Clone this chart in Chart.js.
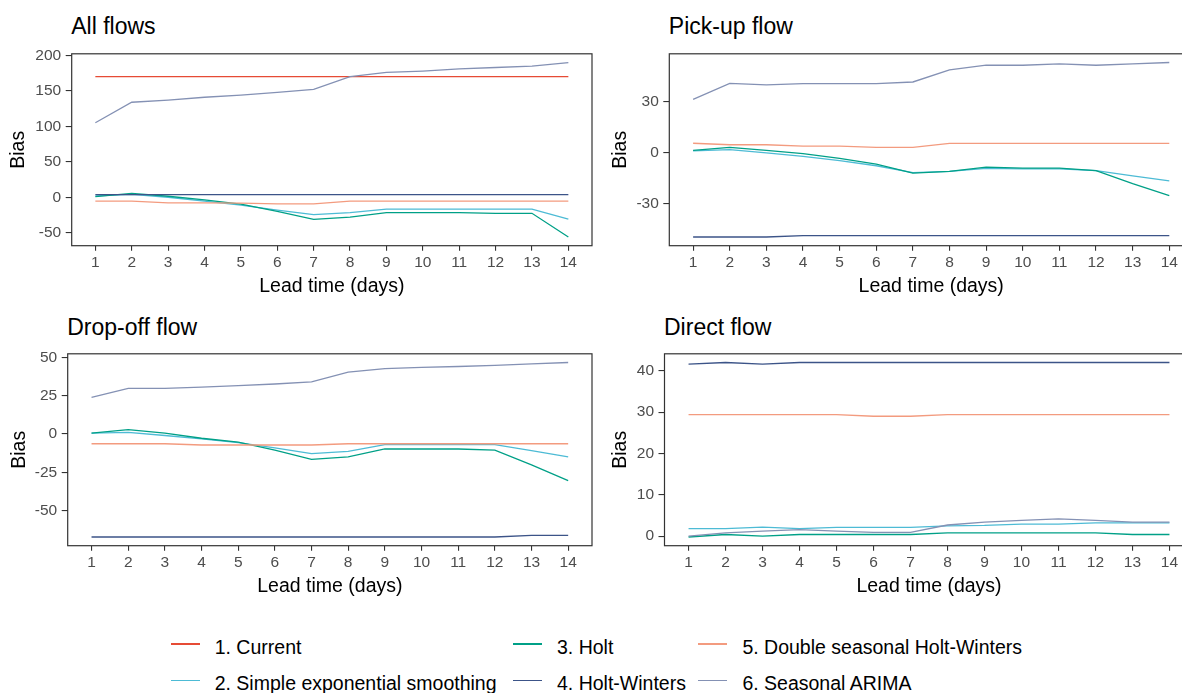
<!DOCTYPE html>
<html>
<head>
<meta charset="utf-8">
<title>Bias by lead time</title>
<script src="https://cdn.jsdelivr.net/npm/chart.js@4.4.1/dist/chart.umd.min.js"></script>
<style>
  html, body { margin: 0; padding: 0; background: #fff; overflow: hidden; }
  body { width: 1182px; height: 693px; position: relative; font-family: "Liberation Sans", Arial, sans-serif; }
  canvas { position: absolute; }
  .title { position: absolute; font-size: 23px; line-height: 22px; color: #000; white-space: nowrap; }
  .key { position: absolute; height: 22px; font-size: 19.5px; line-height: 22px; color: #000; white-space: nowrap; }
  .key i { position: absolute; left: 0; top: 7.5px; width: 29px; height: 1.6px; }
  .key span { position: absolute; left: 44px; top: 0; }
</style>
</head>
<body>
<script>
// lead time in days (x axis)
const leadDays = [1, 2, 3, 4, 5, 6, 7, 8, 9, 10, 11, 12, 13, 14];

const seriesNames = [
  '1. Current',
  '2. Simple exponential smoothing',
  '3. Holt',
  '4. Holt-Winters',
  '5. Double seasonal Holt-Winters',
  '6. Seasonal ARIMA'
];
const seriesColors = ['#E64B35', '#4DBBD5', '#00A087', '#3C5488', '#F39B7F', '#8491B4'];

// All flows
const allCurrent = [170, 170, 170, 170, 170, 170, 170, 170, 170, 170, 170, 170, 170, 170];
const allSes     = [2, 4, 0, -5.5, -11, -18, -24.5, -21.7, -16.6, -16.6, -16.6, -16.6, -16.6, -31];
const allHolt    = [1, 5.5, 1.4, -3.7, -9.7, -19.8, -31.3, -28, -21.7, -21.7, -21.7, -22.6, -22.6, -56];
const allHw      = [3.7, 3.7, 3.7, 3.7, 3.7, 3.7, 3.7, 3.7, 3.7, 3.7, 3.7, 3.7, 3.7, 3.7];
const allDshw    = [-5.5, -5.5, -8, -8, -8.3, -9.2, -9.2, -5.5, -5.5, -5.5, -5.5, -5.5, -5.5, -5.5];
const allArima   = [105, 134, 137, 141, 144, 148, 152, 170, 176, 178, 181, 183, 185, 190];
const allTicks   = [-50, 0, 50, 100, 150, 200];

// Pick-up flow
const pickSes    = [1, 1.7, -0.2, -2.3, -4.8, -7.8, -11.9, -11.1, -9.4, -9.6, -9.6, -10.7, -13.8, -16.8];
const pickHolt   = [1.3, 3.1, 1.3, -0.6, -3.4, -6.9, -12.2, -11.1, -8.6, -9.2, -9.2, -10.7, -18.4, -25.4];
const pickHw     = [-49.9, -49.9, -49.9, -49.1, -49.1, -49.1, -49.1, -49.1, -49.1, -49.1, -49.1, -49.1, -49.1, -49.1];
const pickDshw   = [5.5, 4.6, 4.6, 3.8, 3.8, 3.1, 3.1, 5.4, 5.4, 5.4, 5.4, 5.4, 5.4, 5.4];
const pickArima  = [31.4, 40.9, 40, 40.7, 40.7, 40.7, 41.7, 48.8, 51.6, 51.6, 52.4, 51.6, 52.4, 53.2];
const pickTicks  = [-30, 0, 30];

// Drop-off flow
const dropSes    = [0.6, 1, -1, -3.2, -5.7, -9.1, -12.8, -11.3, -7, -7, -7, -7, -10.9, -14.9];
const dropHolt   = [0.6, 2.8, 0.6, -2.8, -5.3, -10.6, -16.6, -14.9, -9.8, -9.8, -9.8, -10.6, -20.2, -30.4];
const dropHw     = [-67.2, -67.2, -67.2, -67.2, -67.2, -67.2, -67.2, -67.2, -67.2, -67.2, -67.2, -67.2, -66.2, -66.2];
const dropDshw   = [-6.4, -6.4, -6.4, -7.2, -7.2, -7.2, -7.2, -6.4, -6.4, -6.4, -6.4, -6.4, -6.4, -6.4];
const dropArima  = [23.8, 29.8, 29.8, 30.6, 31.5, 32.6, 34, 40.4, 42.6, 43.4, 44, 44.7, 45.7, 46.6];
const dropTicks  = [-50, -25, 0, 25, 50];

// Direct flow
const directSes   = [1.8, 1.8, 2.2, 1.8, 2.1, 2.1, 2.1, 2.5, 2.6, 2.9, 2.9, 3.2, 3.2, 3.2];
const directHolt  = [-0.2, 0.4, 0, 0.4, 0.4, 0.4, 0.4, 0.8, 0.8, 0.8, 0.8, 0.8, 0.4, 0.4];
const directHw    = [41.6, 42, 41.6, 42, 42, 42, 42, 42, 42, 42, 42, 42, 42, 42];
const directDshw  = [29.4, 29.4, 29.4, 29.4, 29.4, 29, 29, 29.4, 29.4, 29.4, 29.4, 29.4, 29.4, 29.4];
const directArima = [0, 0.8, 1.2, 1.6, 1.2, 0.9, 0.9, 2.7, 3.4, 3.8, 4.2, 3.8, 3.4, 3.4];
const directTicks = [0, 10, 20, 30, 40];

const panels = [
  { title: 'All flows', series: [allCurrent, allSes, allHolt, allHw, allDshw, allArima], yTicks: allTicks,
    canvas: { left: 0, top: 40, width: 594, height: 262 },
    frame: { l: 71.7, t: 50, r: 592, b: 245.7 }, biasX: 18.8, xTitleY: 286.7, titleTop: 15.2 },
  { title: 'Pick-up flow', series: [null, pickSes, pickHolt, pickHw, pickDshw, pickArima], yTicks: pickTicks,
    canvas: { left: 590, top: 40, width: 606, height: 262 },
    frame: { l: 669.3, t: 50, r: 1193.1, b: 245.7 }, biasX: 621, xTitleY: 286.7, titleTop: 15.2 },
  { title: 'Drop-off flow', series: [null, dropSes, dropHolt, dropHw, dropDshw, dropArima], yTicks: dropTicks,
    canvas: { left: 0, top: 340, width: 594, height: 262 },
    frame: { l: 67.7, t: 350, r: 592, b: 545.7 }, biasX: 19.7, xTitleY: 586.7, titleTop: 315.9 },
  { title: 'Direct flow', series: [null, directSes, directHolt, directHw, directDshw, directArima], yTicks: directTicks,
    canvas: { left: 590, top: 340, width: 606, height: 262 },
    frame: { l: 664.5, t: 350, r: 1193.5, b: 545.7 }, biasX: 621, xTitleY: 586.7, titleTop: 315.9 }
];

const FONT = '"Liberation Sans", Arial, sans-serif';
const TICK_SIZE = 15.5;
const TITLE_SIZE = 19.5;
const halfTitle = TITLE_SIZE * 1.2 / 2;

// panel border drawn round the plotting area
const panelFrame = {
  id: 'panelFrame',
  afterDraw(chart) {
    const { ctx, chartArea: a } = chart;
    ctx.save();
    ctx.strokeStyle = '#333333';
    ctx.lineWidth = 1.2;
    ctx.strokeRect(a.left, a.top, a.right - a.left, a.bottom - a.top);
    ctx.restore();
  }
};

// ggplot-style 5% expansion of a range
function expand(lo, hi) {
  const pad = (hi - lo) * 0.05;
  return [lo - pad, hi + pad];
}

panels.forEach(p => {
  const c = p.canvas, f = p.frame;
  const padLeft = p.biasX - halfTitle - c.left;
  const yWidth = f.l - c.left - padLeft;
  const padTop = f.t - c.top;
  const padRight = c.left + c.width - f.r;
  const xHeight = p.xTitleY + halfTitle - f.b;
  const padBottom = c.top + c.height - f.b - xHeight;

  const title = document.createElement('div');
  title.className = 'title';
  title.textContent = p.title;
  title.style.left = (f.l - 0.5) + 'px';
  title.style.top = p.titleTop + 'px';
  document.body.appendChild(title);

  const canvas = document.createElement('canvas');
  canvas.width = c.width;
  canvas.height = c.height;
  canvas.style.left = c.left + 'px';
  canvas.style.top = c.top + 'px';
  document.body.appendChild(canvas);

  const values = p.series.filter(Boolean).flat();
  const [yMin, yMax] = expand(Math.min(...values), Math.max(...values));
  const [xMin, xMax] = expand(leadDays[0], leadDays[leadDays.length - 1]);

  const datasets = [];
  p.series.forEach((vals, i) => {
    if (!vals) return;
    datasets.push({
      label: seriesNames[i],
      data: vals.map((v, k) => ({ x: leadDays[k], y: v })),
      borderColor: seriesColors[i],
      backgroundColor: seriesColors[i],
      borderWidth: 1.3,
      pointRadius: 0,
      tension: 0,
      fill: false,
      order: -i
    });
  });

  new Chart(canvas.getContext('2d'), {
    type: 'line',
    data: { datasets },
    plugins: [panelFrame],
    options: {
      responsive: false,
      animation: false,
      devicePixelRatio: 1,
      layout: { padding: { left: padLeft, top: padTop, right: padRight, bottom: padBottom } },
      plugins: { legend: { display: false }, tooltip: { enabled: false } },
      scales: {
        x: {
          type: 'linear',
          min: xMin,
          max: xMax,
          afterBuildTicks: s => { s.ticks = leadDays.map(v => ({ value: v })); },
          afterFit: s => { s.height = xHeight; },
          border: { display: false },
          grid: { drawOnChartArea: false, drawTicks: true, tickLength: 5, color: '#333333', lineWidth: 1.1 },
          ticks: { autoSkip: false, maxRotation: 0, padding: 3, color: '#4d4d4d', font: { family: FONT, size: TICK_SIZE } },
          title: { display: true, text: 'Lead time (days)', color: '#000', padding: 0, font: { family: FONT, size: TITLE_SIZE } }
        },
        y: {
          type: 'linear',
          min: yMin,
          max: yMax,
          afterBuildTicks: s => { s.ticks = p.yTicks.map(v => ({ value: v })); },
          afterFit: s => { s.width = yWidth; },
          border: { display: false },
          grid: { drawOnChartArea: false, drawTicks: true, tickLength: 6, color: '#333333', lineWidth: 1.1 },
          ticks: { padding: 4.5, color: '#4d4d4d', font: { family: FONT, size: TICK_SIZE } },
          title: { display: true, text: 'Bias', color: '#000', padding: 0, font: { family: FONT, size: TITLE_SIZE } }
        }
      }
    }
  });
});

// shared legend below the panels: three columns, two rows
const keyCols = [170.7, 513, 698.4];
const keyRows = [635.7, 672.4];
seriesNames.forEach((name, i) => {
  const item = document.createElement('div');
  item.className = 'key';
  item.style.left = keyCols[Math.floor(i / 2)] + 'px';
  item.style.top = keyRows[i % 2] + 'px';
  const swatch = document.createElement('i');
  swatch.style.background = seriesColors[i];
  const label = document.createElement('span');
  label.textContent = name;
  item.appendChild(swatch);
  item.appendChild(label);
  document.body.appendChild(item);
});
</script>
</body>
</html>
